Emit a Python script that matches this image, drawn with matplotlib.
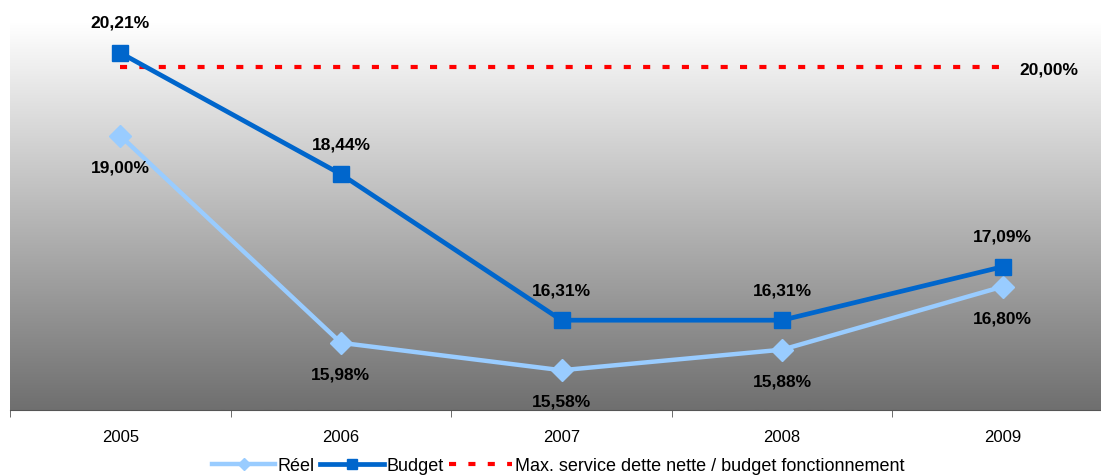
import numpy as np
import matplotlib
matplotlib.use("Agg")
import matplotlib.pyplot as plt
from matplotlib.colors import LinearSegmentedColormap

plt.rcParams['font.family'] = ['Liberation Sans', 'DejaVu Sans']

#### Data

years = ["2005", "2006", "2007", "2008", "2009"]
reel = [19.00, 15.98, 15.58, 15.88, 16.80]
budget = [20.21, 18.44, 16.31, 16.31, 17.09]
plafond = 20.00

reel_labels = ["19,00%", "15,98%", "15,58%", "15,88%", "16,80%"]
budget_labels = ["20,21%", "18,44%", "16,31%", "16,31%", "17,09%"]
plafond_label = "20,00%"

#### Figure

W, H = 1101, 477
fig = plt.figure(figsize=(W / 100, H / 100), dpi=100)
# axes runs a bit past the right edge like the original
ax = fig.add_axes([10 / W, 1 - 411 / H, 1103 / W, 388 / H])

x = np.arange(len(years))
ax.set_xlim(-0.5, len(years) - 0.5)
ax.set_ylim(15.0, 20.66)

# grey gradient background, white on top
grad = np.linspace(0, 1, 256).reshape(-1, 1)
cmap = LinearSegmentedColormap.from_list("bg", ["#ffffff", "#6f6f6f"])
ax.imshow(grad, cmap=cmap, aspect="auto", origin="upper",
          extent=[-0.5, len(years) - 0.5, 15.0, 20.66], zorder=0)

ax.plot(x, reel, color="#99ccff", lw=3.2, marker="D", markersize=11,
        label="Réel", zorder=3)
ax.plot(x, budget, color="#0066cc", lw=3.4, marker="s", markersize=11.5,
        label="Budget", zorder=4)
ax.plot(x, [plafond] * len(x), color="#ff0000", lw=3, linestyle=(0, (1.7, 2.95)),
        label="Max. service dette nette / budget fonctionnement", zorder=2)

for i in range(len(x)):
    ax.annotate(budget_labels[i], (x[i], budget[i]), xytext=(0, 22), textcoords="offset points",
                ha="center", va="center", fontsize=12.5, fontweight="bold", annotation_clip=False)
    ax.annotate(reel_labels[i], (x[i], reel[i]), xytext=(0, -22.5), textcoords="offset points",
                ha="center", va="center", fontsize=12.5, fontweight="bold", annotation_clip=False)
ax.annotate(plafond_label, (x[-1], plafond), xytext=(12, -1), textcoords="offset points",
            ha="left", va="center", fontsize=12.5, fontweight="bold")

# axes styling
for s in ["top", "right", "left"]:
    ax.spines[s].set_visible(False)
ax.spines["bottom"].set_color("#555555")
ax.set_yticks([])
ax.set_xticks(x)
ax.set_xticklabels(years, fontsize=12)
ax.tick_params(axis="x", length=0, pad=14)
ax.set_xticks(np.arange(len(years) + 1) - 0.5, minor=True)
ax.tick_params(axis="x", which="minor", length=5, color="#555555")

fig.legend(loc="lower center", bbox_to_anchor=(0.507, -0.03), ncol=3, frameon=False,
           fontsize=13, handlelength=3.5, handletextpad=0.15, columnspacing=0.3,
           markerscale=0.6)

fig.savefig("out.png", dpi=100)
